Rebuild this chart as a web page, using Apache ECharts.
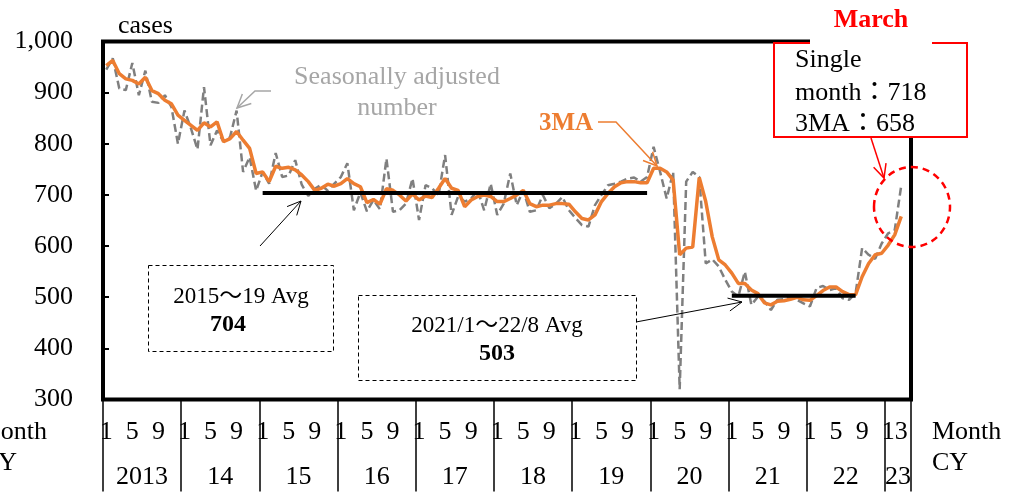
<!DOCTYPE html>
<html><head><meta charset="utf-8">
<script src="https://cdn.jsdelivr.net/npm/echarts@6/dist/echarts.min.js"></script>
<style>html,body{margin:0;padding:0;background:#fff}#c{width:1023px;height:492px}</style>
</head><body><div id="c"></div>
<script>
// ---------- data ----------
const yearLabels = ['2013','14','15','16','17','18','19','20','21','22','23'];
const monthsPerYear = [12,12,12,12,12,12,12,12,12,12,4];
const monthTickLabels = ['1','5','9'];
const lastYearTickLabels = ['1','3'];
const yMin = 300, yMax = 1000, yStep = 100;

// Seasonally adjusted number (single month), 2013/1 .. 2023/3
const seasonal = [
945,967,908,905,958,895,943,882,880,895,872,800,
865,830,789,911,797,826,804,813,865,745,774,708,
745,722,782,735,738,768,720,698,712,720,708,722,
735,762,670,705,668,690,672,771,667,670,683,732,
651,719,713,700,778,661,697,687,693,709,670,722,
661,683,742,680,709,667,670,700,674,683,696,670,
655,641,638,680,700,719,722,726,732,734,726,735,
794,745,693,745,320,726,745,735,566,574,560,534,
511,501,550,485,501,492,475,495,496,501,495,488,
482,518,522,514,518,498,495,508,596,583,575,605,
625,631,718
];
// 3-month moving average
const ma3 = [
953,963,937,927,924,917,930,904,898,885,878,856,
846,836,826,841,833,843,804,810,824,807,791,742,
745,726,756,752,754,749,739,726,709,713,721,717,
722,732,722,716,685,691,682,712,709,700,688,702,
690,698,695,713,732,713,709,677,690,697,700,697,
687,687,693,700,709,683,677,680,680,683,683,682,
667,654,651,661,687,703,716,724,726,726,724,724,
752,752,745,729,583,596,598,734,687,618,573,563,
547,527,527,514,507,489,485,492,493,496,500,495,
494,503,513,520,520,511,505,505,540,566,583,586,
602,622,658
];
const avg1 = {start: 24, end: 83, value: 704, label: '2015～19 Avg'};
const avg2 = {start: 96, end: 115, value: 503, label: '2021/1～22/8 Avg'};
const lastMonthName = 'March';

// ---------- derived ----------
const categories = [];
yearLabels.forEach((y, yi) => { for (let m = 1; m <= monthsPerYear[yi]; m++) categories.push(y + '-' + m); });
const boundaries = [0];
monthsPerYear.forEach(n => boundaries.push(boundaries[boundaries.length - 1] + n));
const yearCenters = yearLabels.map((_, i) => (boundaries[i] + boundaries[i + 1]) / 2);
const avgData = a => categories.map((_, i) => (i >= a.start && i <= a.end) ? a.value : null);

const SERIF = "'Liberation Serif', 'Noto Sans CJK JP', serif";
const F = (size, bold) => (bold ? 'bold ' : '') + size + 'px ' + SERIF;

function arrow(points, color, width, head) {
  const n = points.length, tip = points[n - 1], prev = points[n - 2];
  const ang = Math.atan2(tip[1] - prev[1], tip[0] - prev[0]);
  const a1 = ang + Math.PI - 0.45, a2 = ang + Math.PI + 0.45;
  return [
    {type: 'polyline', z: 100, shape: {points: points}, style: {stroke: color, lineWidth: width, fill: null}},
    {type: 'polyline', z: 100, shape: {points: [
      [tip[0] + head * Math.cos(a1), tip[1] + head * Math.sin(a1)], tip,
      [tip[0] + head * Math.cos(a2), tip[1] + head * Math.sin(a2)]]},
     style: {stroke: color, lineWidth: width, fill: null}}
  ];
}
function txt(text, x, y, font, fill, align) {
  return {type: 'text', z: 102, style: {text: text, x: x, y: y, font: font, fill: fill || '#000',
    textAlign: align || 'left', textVerticalAlign: 'middle'}};
}

const graphics = [
  txt('cases', 118, 26, F(26), '#000'),
  txt('onth', 47, 432, F(26), '#000', 'right'),
  txt('CY', 17, 463, F(26), '#000', 'right'),
  txt('Month', 932, 432, F(26), '#000'),
  txt('CY', 932, 463, F(26), '#000'),
  txt('Seasonally adjusted', 397, 77, F(26), '#a6a6a6', 'center'),
  txt('number', 397, 108, F(26), '#a6a6a6', 'center'),
  ...arrow([[271, 91], [255, 91], [237, 108]], '#a6a6a6', 1.5, 15),
  txt('3MA', 566, 124, F(25, true), '#ED7D31', 'center'),
  ...arrow([[598, 122], [616, 122], [657, 166]], '#ED7D31', 1.5, 15),
  {type: 'rect', z: 101, shape: {x: 148.5, y: 265.5, width: 185, height: 86},
   style: {fill: '#fff', stroke: '#000', lineWidth: 1, lineDash: [4, 3]}},
  txt(avg1.label, 241, 297, F(23), '#000', 'center'),
  txt(String(avg1.value), 228, 325, F(24, true), '#000', 'center'),
  ...arrow([[260, 246], [301, 201]], '#000', 1, 15),
  {type: 'rect', z: 101, shape: {x: 358.5, y: 295.5, width: 278, height: 85},
   style: {fill: '#fff', stroke: '#000', lineWidth: 1, lineDash: [4, 3]}},
  txt(avg2.label, 497, 326, F(23), '#000', 'center'),
  txt(String(avg2.value), 497, 354, F(24, true), '#000', 'center'),
  ...arrow([[636, 322], [742, 302]], '#000', 1, 15),
  {type: 'rect', z: 101, shape: {x: 774, y: 43, width: 193, height: 94},
   style: {fill: '#fff', stroke: '#FF0000', lineWidth: 2}},
  {type: 'rect', z: 101, shape: {x: 810, y: 0, width: 122, height: 45}, style: {fill: '#fff'}},
  txt(lastMonthName, 871, 20, F(26, true), '#FF0000', 'center'),
  txt('Single', 795, 60, F(26), '#000'),
  txt('month：' + seasonal[seasonal.length - 1], 795, 93, F(26), '#000'),
  txt('3MA：' + ma3[ma3.length - 1], 795, 124, F(26), '#000'),
  ...arrow([[871, 138], [884, 178]], '#FF0000', 1.5, 15),
  {type: 'ellipse', z: 103, shape: {cx: 912, cy: 207, rx: 38, ry: 40},
   style: {fill: null, stroke: '#FF0000', lineWidth: 2.5, lineDash: [7, 5]}}
];

const chart = echarts.init(document.getElementById('c'), null, {renderer: 'canvas'});
chart.setOption({
  animation: false,
  backgroundColor: '#fff',
  grid: {left: 103, top: 41.5, width: 808, height: 358, show: true, borderColor: '#000', borderWidth: 4, backgroundColor: 'transparent'},
  xAxis: [{
    type: 'category', data: categories, boundaryGap: true,
    axisLine: {show: false}, axisTick: {show: false}, splitLine: {show: false},
    axisLabel: {
      interval: (idx, val) => {
        const p = val.split('-');
        return (p[0] === yearLabels[yearLabels.length - 1] ? lastYearTickLabels : monthTickLabels).includes(p[1]);
      },
      formatter: val => val.split('-')[1],
      margin: 19.5, color: '#000', fontSize: 26, fontFamily: SERIF
    }
  }, {
    type: 'value', min: 0, max: boundaries[boundaries.length - 1], position: 'bottom',
    axisLine: {show: false}, splitLine: {show: false},
    axisTick: {show: true, customValues: boundaries, length: 92, inside: false, lineStyle: {color: '#000', width: 1.5}},
    axisLabel: {customValues: yearCenters, formatter: v => yearLabels[yearCenters.indexOf(v)],
      margin: 64.5, color: '#000', fontSize: 26, fontFamily: SERIF}
  }],
  yAxis: {
    type: 'value', min: yMin, max: yMax, interval: yStep,
    axisLine: {show: false}, splitLine: {show: false},
    axisTick: {show: true, inside: true, length: 6, lineStyle: {color: '#000', width: 2}},
    axisLabel: {formatter: v => v.toLocaleString('en-US'), margin: 30, color: '#000', fontSize: 26, fontFamily: SERIF}
  },
  series: [
    {name: 'Seasonally adjusted', type: 'line', data: seasonal, symbol: 'none', z: 2,
     lineStyle: {color: '#7f7f7f', width: 2.5, type: [8, 4]}},
    {name: '3MA', type: 'line', data: ma3, symbol: 'none', z: 3,
     lineStyle: {color: '#ED7D31', width: 3.5}},
    {name: 'avg1', type: 'line', data: avgData(avg1), symbol: 'none', z: 4, connectNulls: false,
     lineStyle: {color: '#000', width: 4}},
    {name: 'avg2', type: 'line', data: avgData(avg2), symbol: 'none', z: 4, connectNulls: false,
     lineStyle: {color: '#000', width: 4}}
  ],
  graphic: graphics
});
</script></body></html>
